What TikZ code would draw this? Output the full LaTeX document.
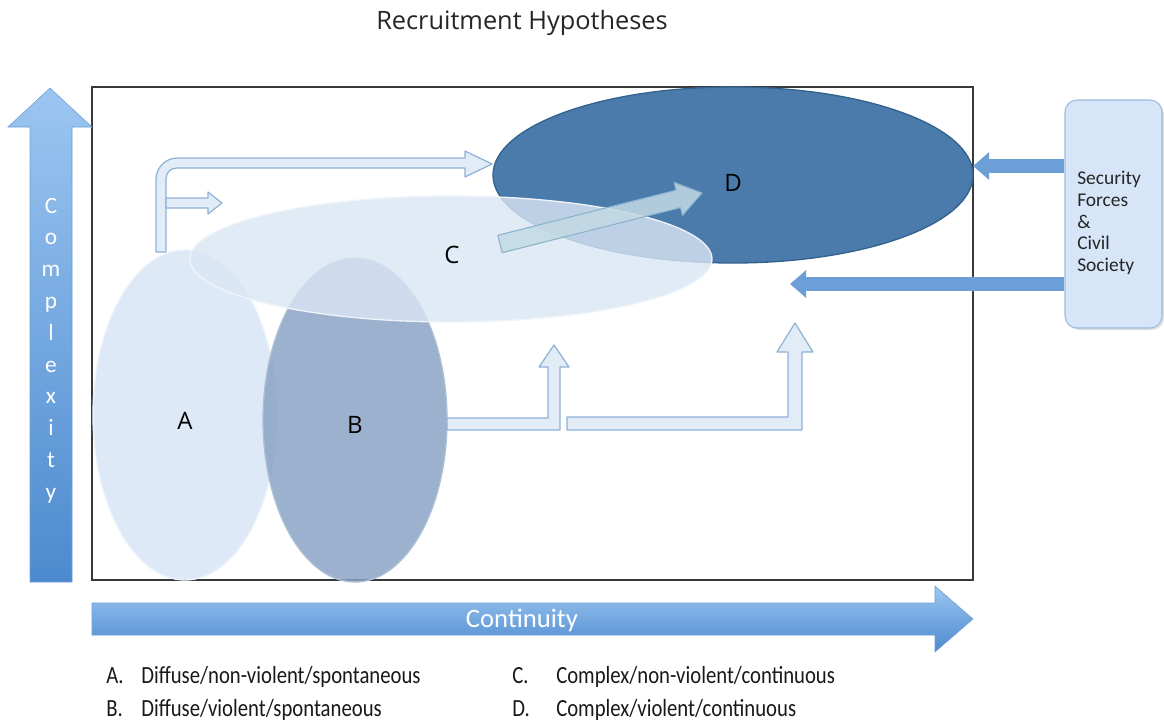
\documentclass[tikz,border=0pt]{standalone}
\usepackage{fontspec}
\setmainfont{Carlito}
\newfontfamily\lucfont{Open Sans}
\newfontfamily\legfont[FakeStretch=0.84]{Carlito}
\usetikzlibrary{shapes.geometric,arrows.meta,shadows}

\definecolor{framegray}{HTML}{3A3A3A}
\definecolor{axtop}{HTML}{9CC6F1}
\definecolor{axbot}{HTML}{4C8ACF}
\definecolor{axedge}{HTML}{6E9ED6}
\definecolor{afill}{HTML}{DAE7F6}
\definecolor{bfill}{HTML}{8AA3C4}
\definecolor{cfill}{HTML}{DAE6F4}
\definecolor{dfill}{HTML}{4A7BAA}
\definecolor{dedge}{HTML}{34628F}
\definecolor{rimwhite}{HTML}{EEF4FA}
\definecolor{arrowfill}{HTML}{E1ECF7}
\definecolor{arrowedge}{HTML}{8DB1D6}
\definecolor{cdfill}{HTML}{C2DAE4}
\definecolor{cdedge}{HTML}{8CB2CB}
\definecolor{secblue}{HTML}{6C9FD8}
\definecolor{secfill}{HTML}{D6E6F8}
\definecolor{secedge}{HTML}{9DBBE0}

\begin{document}
\begin{tikzpicture}[x=0.75pt,y=-0.75pt,
    ellip/.style={ellipse, inner sep=0pt, text opacity=1, line width=1pt,
      font=\lucfont\fontsize{18}{20}\selectfont},
    hollowarrow/.style={draw=arrowedge, fill=arrowfill, line width=0.9pt, line join=round},
    secarrow/.style={draw=secblue, line width=10.5pt, -{Triangle[width=20pt,length=12pt]}},
    axtext/.style={text=white, inner sep=0pt, anchor=base, font=\fontsize{17.5}{19}\selectfont},
    legtext/.style={inner sep=0pt, anchor=base west, text=black!90, font=\legfont\fontsize{18.5}{20}\selectfont}]

    \useasboundingbox (0,0) rectangle (1164,721);

    % Draw title
    \node[font=\lucfont\fontsize{19}{22}\selectfont, text=black!85] (title) at (522,23) {Recruitment Hypotheses};

    % Draw frame
    \draw[framegray, line width=1.1pt] (92,87) rectangle (973,580);

    % Draw axes
    \shade[top color=axtop, bottom color=axbot, draw=axedge, line width=0.4pt]
        (30,582) -- (30,127) -- (8,127) -- (50,88) -- (92,127) -- (72,127) -- (72,582) -- cycle;
    \foreach \ch [count=\i from 0] in {C,o,m,p,l,e,x,i,t,y}
        \node[axtext] (cx\i) at (51,{213+\i*31.8}) {\ch};
    \shade[top color=axtop, bottom color=axbot, draw=axedge, line width=0.4pt]
        (92,603) -- (935,603) -- (935,586) -- (973,619) -- (935,652) -- (935,635) -- (92,635) -- cycle;
    \node[axtext, anchor=center, font=\fontsize{20}{22}\selectfont] (cont) at (522,620) {Continuity};

    % Draw hypotheses
    \node[ellip, draw=dedge, fill=dfill, minimum width=360pt, minimum height=132pt] (elD) at (733,175) {};
    \node[ellip, draw=rimwhite, fill=afill, fill opacity=0.9, minimum width=138pt, minimum height=247.5pt] (elA) at (185,415) {};
    \node[ellip, draw=bfill!70!white, fill=bfill, fill opacity=0.85, minimum width=138pt, minimum height=243pt] (elB) at (355,420) {};
    \node[ellip, draw=rimwhite, fill=cfill, fill opacity=0.8, minimum width=391.5pt, minimum height=94.5pt] (elC) at (451,259) {};
    \node[ellip] (labA) at (185,421) {A};
    \node[ellip] (labB) at (355,425) {B};
    \node[ellip] (labC) at (452,255) {C};
    \node[ellip] (labD) at (733,183) {D};

    % Draw movement arrows
    \path[hollowarrow] (156,252) [rounded corners=16pt] -- (156,158) [sharp corners] -- (465,158)
        -- (465,151) -- (492,164) -- (465,177) -- (465,168) [rounded corners=8pt] -- (166,168)
        [sharp corners] -- (166,252) -- cycle;
    \path[hollowarrow] (166,198) -- (208,198) -- (208,192) -- (222,203) -- (208,214) -- (208,208) -- (166,208) -- cycle;
    \path[hollowarrow] (447,418) -- (548,418) -- (548,367) -- (539,367) -- (554,345) -- (569,367)
        -- (560,367) -- (560,430) -- (447,430) -- cycle;
    \path[hollowarrow] (567,417) -- (788,417) -- (788,352) -- (777,352) -- (795,323) -- (813,352)
        -- (802,352) -- (802,430) -- (567,430) -- cycle;
    \path[draw=cdedge, fill=cdfill, fill opacity=0.85, line width=0.8pt, line join=round]
        (497.8,235.3) -- (676.1,190.2) -- (674.1,182.4) -- (702,193) -- (682.5,215.4)
        -- (680.5,207.6) -- (502.2,252.7) -- cycle;

    % Draw outside pressure
    \node[draw=secedge, fill=secfill, rounded corners=9pt, line width=0.8pt,
        drop shadow={opacity=0.25, shadow xshift=1.5pt, shadow yshift=-1.5pt},
        minimum width=72.75pt, minimum height=171pt] (sec) at (1113.5,214) {};
    \node[anchor=west, inner sep=0pt, align=left, text=black!85,
        font=\fontsize{14.6}{16.2}\selectfont] (secTxt) at (1077,223)
        {Security\\Forces\\\&\\Civil\\Society};
    \coordinate (dIn) at (973,166);
    \coordinate (pIn) at (790,284);
    \draw[secarrow] (sec.west |- dIn) -- (dIn);
    \draw[secarrow] (sec.west |- pIn) -- (pIn);

    % Draw legend
    \node[legtext] (legA) at (106,683) {A.};
    \node[legtext] (legAt) at (141,683) {Diffuse/non-violent/spontaneous};
    \node[legtext] (legB) at (106,716) {B.};
    \node[legtext] (legBt) at (141,716) {Diffuse/violent/spontaneous};
    \node[legtext] (legC) at (512,683) {C.};
    \node[legtext] (legCt) at (556,683) {Complex/non-violent/continuous};
    \node[legtext] (legD) at (512,716) {D.};
    \node[legtext] (legDt) at (556,716) {Complex/violent/continuous};
\end{tikzpicture}
\end{document}
